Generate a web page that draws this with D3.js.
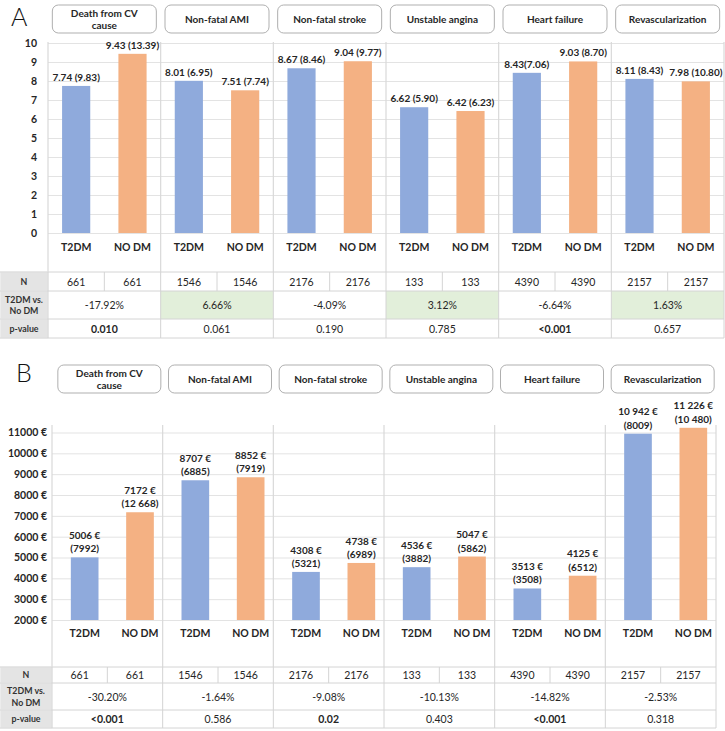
<!DOCTYPE html>
<html><head><meta charset="utf-8">
<script src="https://cdn.jsdelivr.net/npm/d3@7"></script>
<style>
body{margin:0;background:#fff;}
svg{display:block;font-family:Lato,"Open Sans",sans-serif;}
</style></head><body>
<svg id="c" width="725" height="731"></svg>
<script>
// ---------- data ----------
const categories = ["Death from CV cause","Non-fatal AMI","Non-fatal stroke","Unstable angina","Heart failure","Revascularization"];
const headerLines = [["Death from CV","cause"],["Non-fatal AMI"],["Non-fatal stroke"],["Unstable angina"],["Heart failure"],["Revascularization"]];
const groups = ["T2DM","NO DM"];
const rowLabels = [["N"],["T2DM vs.","No DM"],["p-value"]];

// Panel A
const aT2dm = [7.74, 8.01, 8.67, 6.62, 8.43, 8.11];
const aNoDm = [9.43, 7.51, 9.04, 6.42, 9.03, 7.98];
const aT2dmLabel = ["7.74 (9.83)","8.01 (6.95)","8.67 (8.46)","6.62 (5.90)","8.43(7.06)","8.11 (8.43)"];
const aNoDmLabel = ["9.43 (13.39)","7.51 (7.74)","9.04 (9.77)","6.42 (6.23)","9.03 (8.70)","7.98 (10.80)"];
const aTicks = [0,1,2,3,4,5,6,7,8,9,10];
const aN = [661,1546,2176,133,4390,2157];
const aDiff = ["-17.92%","6.66%","-4.09%","3.12%","-6.64%","1.63%"];
const aP = ["0.010","0.061","0.190","0.785","<0.001","0.657"];
const aPBold = [true,false,false,false,true,false];

// Panel B
const bT2dm = [5006, 8707, 4308, 4536, 3513, 10942];
const bNoDm = [7172, 8852, 4738, 5047, 4125, 11226];
const bT2dmLabel = [["5006 €","(7992)"],["8707 €","(6885)"],["4308 €","(5321)"],["4536 €","(3882)"],["3513 €","(3508)"],["10 942 €","(8009)"]];
const bNoDmLabel = [["7172 €","(12 668)"],["8852 €","(7919)"],["4738 €","(6989)"],["5047 €","(5862)"],["4125 €","(6512)"],["11 226 €","(10 480)"]];
const bTicks = [2000,3000,4000,5000,6000,7000,8000,9000,10000,11000];
const bN = [661,1546,2176,133,4390,2157];
const bDiff = ["-30.20%","-1.64%","-9.08%","-10.13%","-14.82%","-2.53%"];
const bP = ["<0.001","0.586","0.02","0.403","<0.001","0.318"];
const bPBold = [true,false,true,false,true,false];

// ---------- style ----------
const BLUE = "#8faadc", ORANGE = "#f4b183", GREEN = "#e2efda";
const GRID = "#e3e3e3", BORDER = "#d4d4d4", LABELBG = "#e4e4e4", TXT = "#262626";

const svg = d3.select("#c");

function panel(cfg){
  const g = svg.append("g");
  const sx = d3.scaleBand().domain(categories).range([cfg.left, cfg.right]).padding(0);
  const bw = sx.bandwidth();
  const gx = d3.scaleBand().domain(groups).range([cfg.shift, bw + cfg.shift]).paddingInner(0.5).paddingOuter(0.25);
  const y = d3.scaleLinear().domain(cfg.domain).range([cfg.y0, cfg.y1]);

  // letter
  g.append("text").attr("x", cfg.letterX).attr("y", cfg.letterY).attr("font-size", 25)
    .attr("fill", "#111").attr("font-family","Lato, sans-serif").attr("font-weight",300).text(cfg.letter);

  // header boxes
  categories.forEach((c,i)=>{
    const cx = sx(c) + bw/2 + cfg.boxShift;
    const hb = g.append("g");
    hb.append("rect").attr("x", cx - cfg.boxW/2).attr("y", cfg.boxY).attr("width", cfg.boxW).attr("height", 28)
      .attr("rx", 6).attr("fill","#fff").attr("stroke","#a6a6a6").attr("stroke-width",0.9);
    const lines = headerLines[i];
    lines.forEach((t,j)=>{
      hb.append("text").attr("x", cx).attr("y", cfg.boxY + 14 + (j - (lines.length-1)/2)*12 + 3.5)
        .attr("text-anchor","middle").attr("font-size",10).attr("font-weight","bold").attr("fill",TXT).text(t);
    });
  });

  // gridlines
  const yAxis = d3.axisLeft(y).tickValues(cfg.ticks).tickSize(-(cfg.right - cfg.left)).tickFormat(cfg.fmt).tickPadding(cfg.tickPad);
  const ax = g.append("g").attr("transform",`translate(${cfg.left},0)`).call(yAxis);
  ax.select(".domain").remove();
  ax.selectAll(".tick line").attr("stroke", GRID).attr("stroke-width",1);
  ax.selectAll(".tick text").attr("font-size",10.5).attr("font-weight","bold").attr("fill",TXT)
    .attr("font-family","Lato, sans-serif");

  // section vertical lines
  const edges = categories.map(c=>sx(c)).concat([cfg.right]);
  g.selectAll(".vl").data(edges).join("line")
    .attr("x1",d=>d).attr("x2",d=>d).attr("y1",cfg.vTop).attr("y2",cfg.tableTop)
    .attr("stroke","#d9d9d9").attr("stroke-width",1.2);

  // bars
  const rows = [];
  categories.forEach((c,i)=>{
    rows.push({c, grp:"T2DM", v:cfg.t2dm[i], lab:cfg.t2dmLabel[i], col:BLUE});
    rows.push({c, grp:"NO DM", v:cfg.nodm[i], lab:cfg.nodmLabel[i], col:ORANGE});
  });
  g.selectAll(".bar").data(rows).join("rect")
    .attr("x", d=>sx(d.c)+gx(d.grp)).attr("width", gx.bandwidth())
    .attr("y", d=>y(d.v)).attr("height", d=>y(cfg.domain[0]) - y(d.v)).attr("fill", d=>d.col);

  // value labels
  rows.forEach(d=>{
    const cx = sx(d.c)+gx(d.grp)+gx.bandwidth()/2;
    const lab = Array.isArray(d.lab) ? d.lab : [d.lab];
    lab.forEach((t,j)=>{
      g.append("text").attr("x", cx).attr("y", y(d.v) - 5 - (lab.length-1-j)*13.3)
        .attr("text-anchor","middle").attr("font-size",10).attr("font-weight","bold").attr("fill",TXT).text(t);
    });
    g.append("text").attr("x", cx).attr("y", cfg.xLabY).attr("text-anchor","middle")
      .attr("font-size",10.5).attr("font-weight","bold").attr("fill",TXT).text(d.grp);
  });

  // table
  const t = g.append("g");
  const rt = cfg.rowTops; // 4 values: tops of 3 rows + bottom
  for(let r=0;r<3;r++){
    t.append("rect").attr("x",0).attr("y",rt[r]).attr("width",cfg.left).attr("height",rt[r+1]-rt[r])
      .attr("fill",LABELBG).attr("stroke","#f4f4f4").attr("stroke-width",1);
    const ls = rowLabels[r];
    ls.forEach((s,j)=>{
      t.append("text").attr("x",cfg.left/2).attr("y",(rt[r]+rt[r+1])/2 + 3.3 + (j-(ls.length-1)/2)*11.5)
        .attr("text-anchor","middle").attr("font-size",8.8).attr("font-weight","bold").attr("fill","#333").text(s);
    });
  }
  categories.forEach((c,i)=>{
    const x0 = sx(c), mid = x0 + bw/2;
    const pos = parseFloat(cfg.diff[i]) > 0;
    t.append("rect").attr("x",x0).attr("y",rt[1]).attr("width",bw).attr("height",rt[2]-rt[1])
      .attr("fill", cfg.greenPos && pos ? GREEN : "#fff");
    groups.forEach(gr=>{
      t.append("text").attr("x", x0 + (gr==="T2DM" ? bw*0.25 : bw*0.75)).attr("y",(rt[0]+rt[1])/2+4)
        .attr("text-anchor","middle").attr("font-size",10.5).attr("fill",TXT).text(cfg.n[i]);
    });
    t.append("line").attr("x1",mid).attr("x2",mid).attr("y1",rt[0]).attr("y2",rt[1]).attr("stroke",BORDER);
    t.append("text").attr("x",mid).attr("y",(rt[1]+rt[2])/2+4).attr("text-anchor","middle")
      .attr("font-size",10.5).attr("fill",TXT).text(cfg.diff[i]);
    t.append("text").attr("x",mid).attr("y",(rt[2]+rt[3])/2+4).attr("text-anchor","middle")
      .attr("font-size",10.5).attr("font-weight",cfg.pBold[i]?"bold":"normal").attr("fill",TXT).text(cfg.p[i]);
  });
  rt.forEach(yy=>{
    t.append("line").attr("x1",0).attr("x2",cfg.right).attr("y1",yy).attr("y2",yy).attr("stroke",BORDER);
  });
  edges.forEach(xx=>{
    t.append("line").attr("x1",xx).attr("x2",xx).attr("y1",rt[0]).attr("y2",rt[3]).attr("stroke",BORDER);
  });
}

panel({
  letter:"A", letterX:11, letterY:26,
  left:48, right:724, shift:0, boxShift:0, boxW:104, boxY:5,
  domain:[0,10], y0:233, y1:43, ticks:aTicks, fmt:d3.format("d"), tickPad:11,
  vTop:42, xLabY:251, tableTop:272, rowTops:[272,291,319,338],
  t2dm:aT2dm, nodm:aNoDm, t2dmLabel:aT2dmLabel, nodmLabel:aNoDmLabel,
  n:aN, diff:aDiff, p:aP, pBold:aPBold, greenPos:true
});

panel({
  letter:"B", letterX:16, letterY:382,
  left:52, right:716, shift:5, boxShift:2, boxW:103, boxY:365,
  domain:[2000,11000], y0:620, y1:432.5, ticks:bTicks, fmt:d=>d+" €", tickPad:5,
  vTop:425, xLabY:637, tableTop:667, rowTops:[667,683,710,728],
  t2dm:bT2dm, nodm:bNoDm, t2dmLabel:bT2dmLabel, nodmLabel:bNoDmLabel,
  n:bN, diff:bDiff, p:bP, pBold:bPBold, greenPos:true
});
</script>
</body></html>
